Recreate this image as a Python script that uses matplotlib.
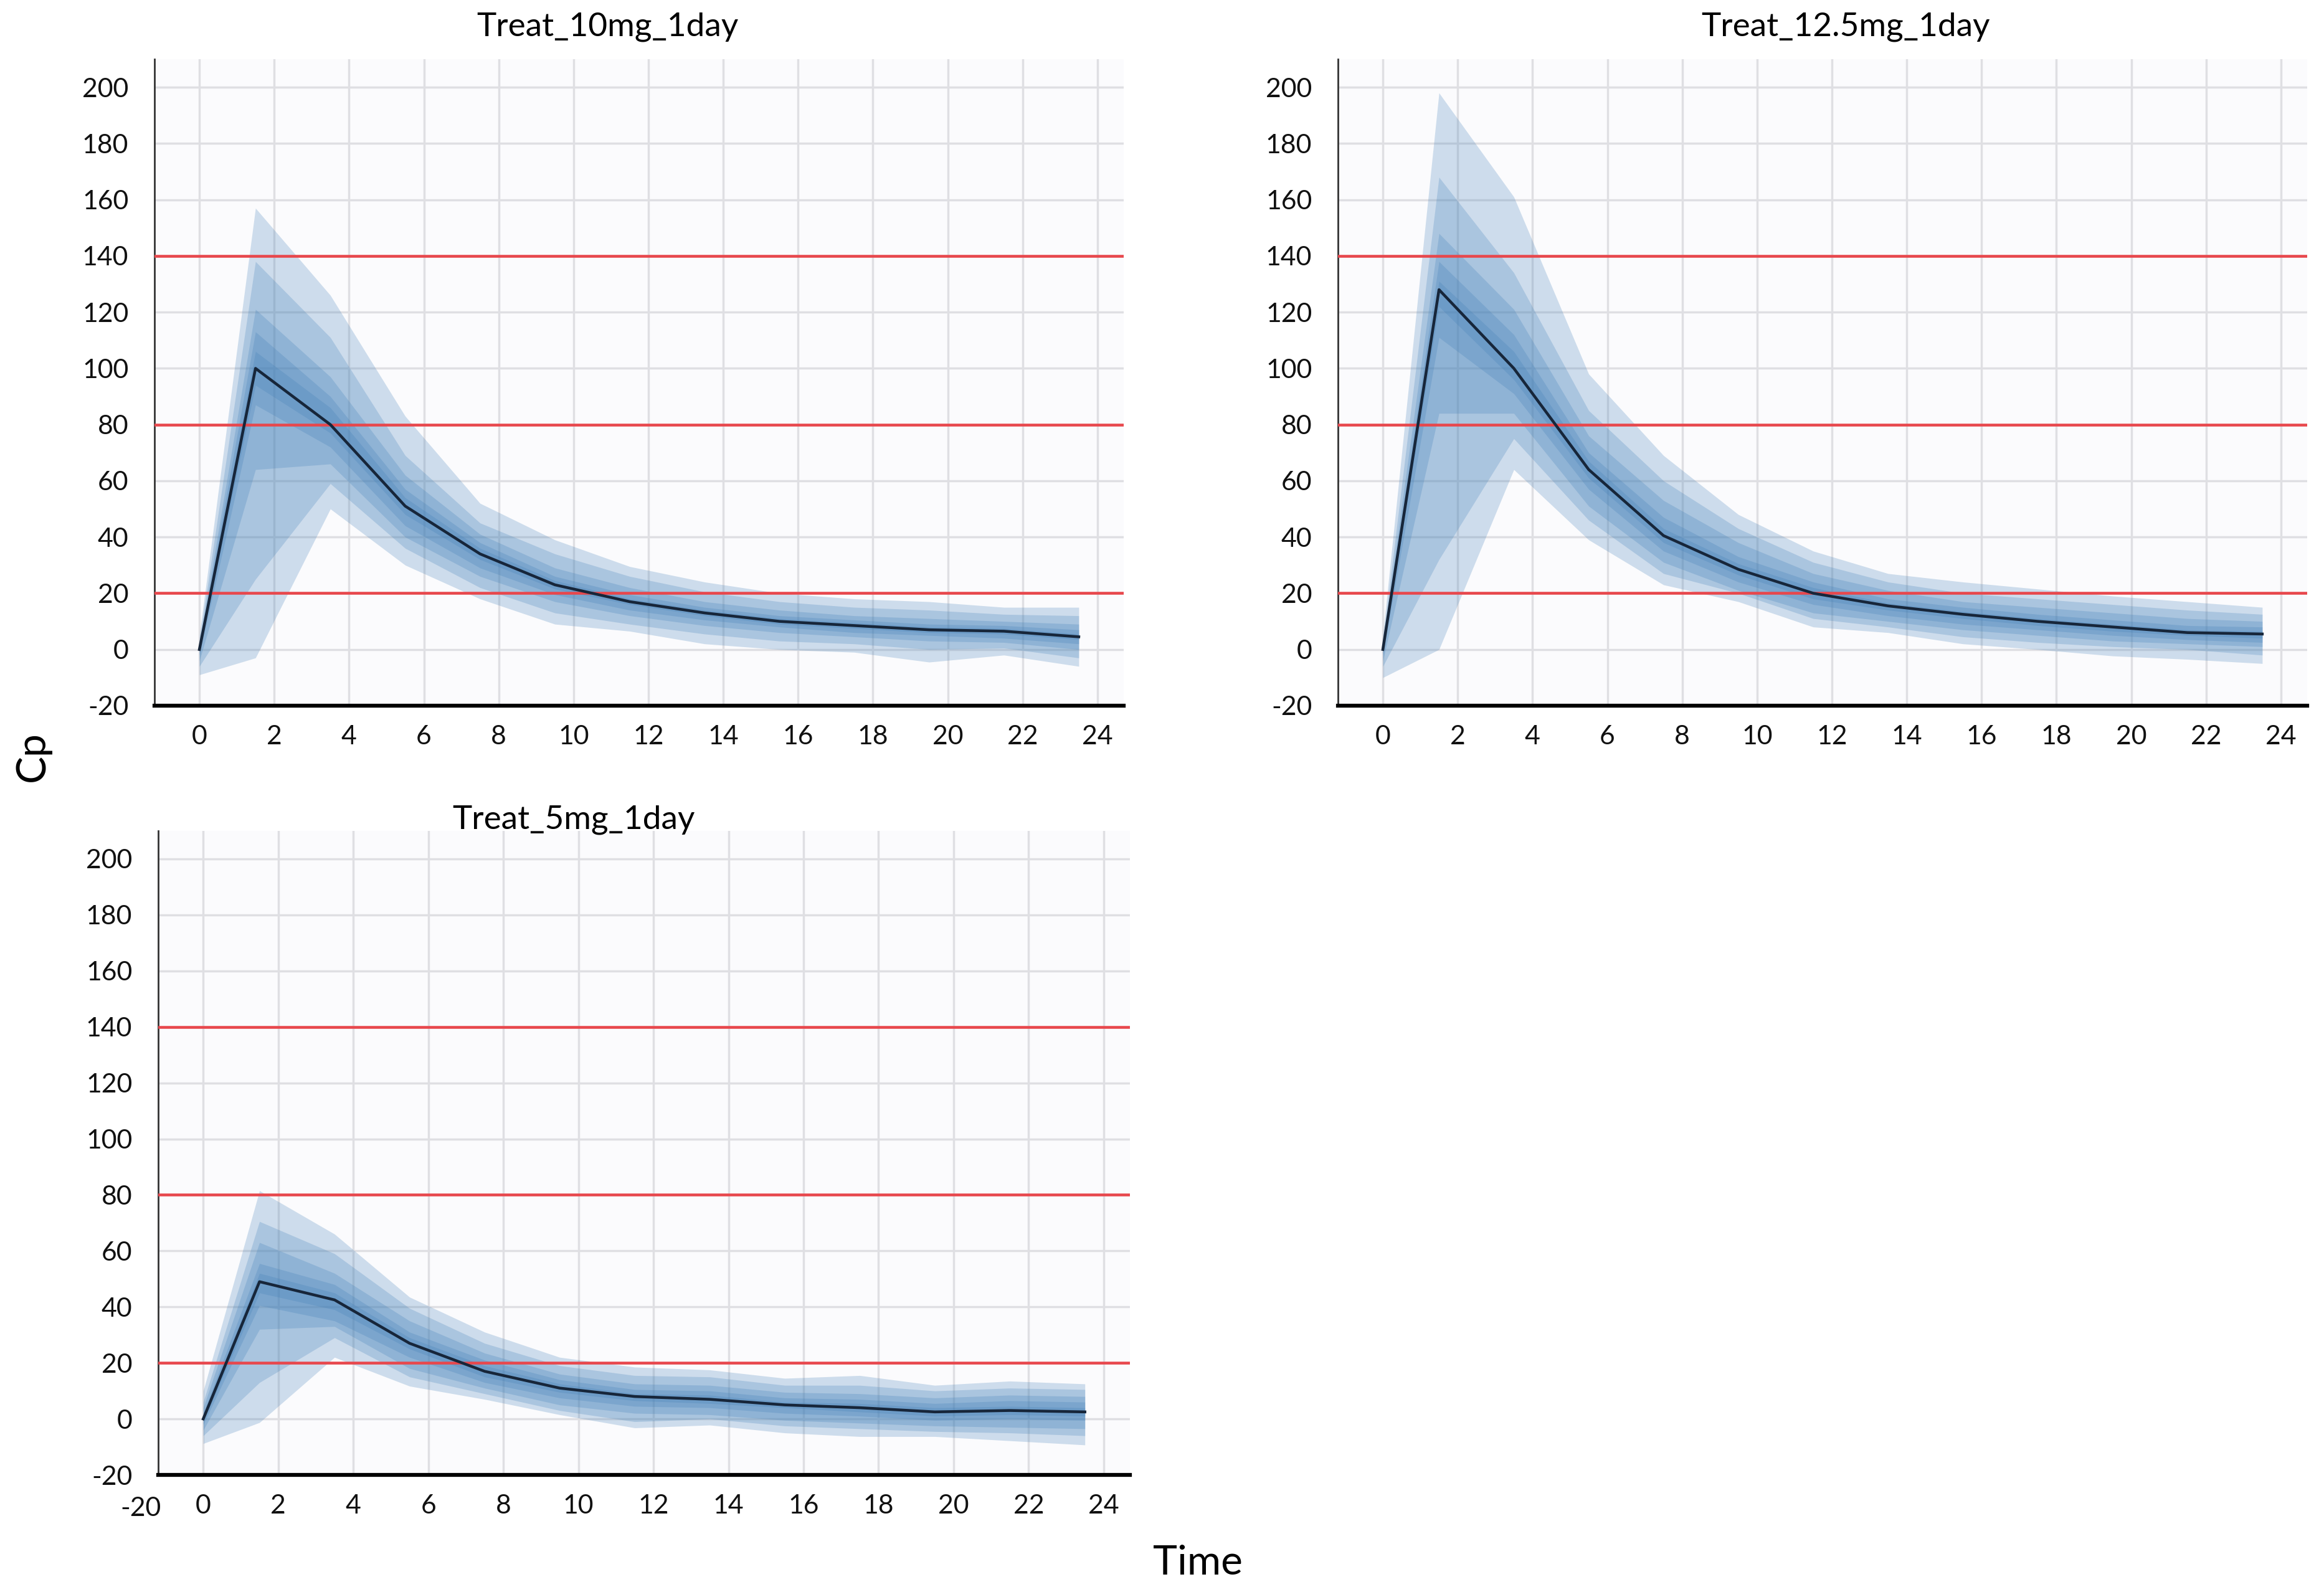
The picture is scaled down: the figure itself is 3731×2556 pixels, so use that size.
"""
Fan charts of simulated Cp over time for three dose groups.
"""

import matplotlib.pyplot as plt

# sampling times (h)
times = [0, 1.5, 3.5, 5.5, 7.5, 9.5, 11.5, 13.5, 15.5, 17.5, 19.5, 21.5, 23.5]

# Treat_10mg_1day
med_10 = [0, 100, 80, 51, 34, 23, 17, 13, 10, 8.5, 7, 6.5, 4.5]
p95_10 = [5, 157, 126, 83, 52, 39, 29.5, 24, 20, 18, 17, 15, 15]
p90_10 = [3, 138, 111, 69, 45, 34, 26, 20.5, 17, 15, 14, 12.5, 12]
p80_10 = [2, 121, 97, 62, 41, 29, 22, 17, 14, 12, 11, 10, 9]
p70_10 = [1, 113, 90, 57, 38, 26, 19.5, 15, 12, 10.5, 9, 8.5, 7]
p60_10 = [0.5, 106, 86, 54, 36, 24.5, 18, 14, 11, 9.5, 8, 7.5, 5.5]
p40_10 = [-0.5, 94, 77, 48, 32, 21.5, 16, 12, 9, 7.5, 6, 5.5, 3.5]
p30_10 = [-2, 87, 72, 44, 29, 19.5, 14, 10.5, 8, 6, 5, 4, 2]
p20_10 = [-4, 64, 66, 40, 26, 17, 12, 8.5, 6, 4.5, 3, 2.5, 0]
p10_10 = [-6, 25, 59, 36, 22, 13, 9, 5.5, 3, 2, 0, 0.5, -3]
p5_10 = [-9, -3, 50, 30, 18, 9, 6.5, 2, 0, -1, -4.5, -2, -6]

# Treat_12.5mg_1day
med_12 = [0, 128, 100, 64, 40.5, 28.5, 20, 15.5, 12.5, 10, 8, 6, 5.5]
p95_12 = [5, 198, 161, 98, 69, 48, 35, 27, 24, 21.5, 19, 17, 15]
p90_12 = [3, 168, 134, 85, 60, 43, 31, 24, 20, 18, 16, 14, 12.5]
p80_12 = [2, 148, 121, 76, 53, 38, 27, 21, 17, 15, 13, 11, 10]
p70_12 = [1, 138, 112, 70, 47, 33, 24, 18, 15, 12.5, 10.5, 8.5, 8]
p60_12 = [0.5, 131, 106, 67, 43, 30.5, 22, 16.5, 13.5, 11, 9, 7, 6.5]
p40_12 = [-0.5, 122, 96, 61, 38, 26.5, 18, 14, 11, 8.5, 6.5, 5, 4]
p30_12 = [-2, 111, 91, 57, 35, 24, 16, 12, 9, 7, 5, 3.5, 2.5]
p20_12 = [-4, 84, 84, 51, 31, 21, 13, 10, 7, 5, 3, 2, 1]
p10_12 = [-6, 32, 75, 46, 27, 20, 11, 8, 4.5, 2.5, 1, 0, -2]
p5_12 = [-10, 0, 64, 39, 23, 17, 8, 6, 2, 0, -2.3, -3.5, -5]

# Treat_5mg_1day
med_5 = [0, 49, 42.5, 27, 17, 11, 8, 7, 5, 4, 2.5, 3, 2.5]
p95_5 = [10, 81.5, 66, 43.5, 31, 22, 18.5, 17.5, 14.5, 15.5, 12, 13.5, 12.5]
p90_5 = [6, 70.5, 59, 39.5, 27, 19, 15.5, 15, 12, 12, 10, 11, 10.5]
p80_5 = [4, 63, 52, 35, 23.5, 16, 12.5, 12, 9.5, 9, 7.5, 8.5, 8]
p70_5 = [2, 55.5, 48, 31, 21, 14, 10.5, 10, 7.5, 7, 5.5, 6.5, 6]
p60_5 = [1, 52, 45, 29, 19, 12.5, 9, 8.5, 6, 5.5, 4, 4.5, 4]
p40_5 = [-1, 45, 39, 25, 15, 9.5, 6.5, 5.5, 4, 2.5, 1, 1.5, 1]
p30_5 = [-2, 40.5, 35, 22, 13, 7.5, 4.5, 4, 2, 1, -0.5, 0, -0.5]
p20_5 = [-4, 32, 33, 18, 11, 5, 2, 1.5, -0.5, -1.5, -2.5, -3, -3.5]
p10_5 = [-6, 13, 29, 15, 9, 3, -1, 0, -2.5, -3.5, -4.5, -5, -6]
p5_5 = [-8.8, -1.3, 22, 11.7, 7, 1.5, -3.2, -2.2, -5, -6.3, -6.3, -7.8, -9.3]

ref_lines = [20, 80, 140]
x_ticks = list(range(0, 25, 2))
y_ticks = list(range(-20, 201, 20))

plt.rcParams["font.family"] = ["Lato", "DejaVu Sans"]
plt.rcParams["axes.unicode_minus"] = False

W, H = 3731, 2556
fig = plt.figure(figsize=(W / 250, H / 250), dpi=250)


def draw_panel(rect, title, title_xy, med, bands):
    ax = fig.add_axes(rect)
    ax.set_facecolor("#fbfbfd")
    for lo, hi in bands:
        ax.fill_between(times, lo, hi, color="#3d7cb6", alpha=0.24,
                        linewidth=0, zorder=2)
    ax.plot(times, med, color="#17263a", linewidth=1.3, zorder=4)
    for y in ref_lines:
        ax.axhline(y, color="#e8474c", linewidth=1.3, zorder=3)

    ax.set_xlim(-1.2, 24.7)
    ax.set_ylim(-20, 210)
    ax.set_xticks(x_ticks)
    ax.set_yticks(y_ticks)
    ax.grid(True, color="#dfdfe3", linewidth=1.0, zorder=0)
    ax.set_axisbelow(True)
    ax.tick_params(axis="both", length=0, labelsize=12.3, colors="#111111")
    ax.tick_params(axis="y", pad=12)
    ax.tick_params(axis="x", pad=9)
    for side in ("top", "right"):
        ax.spines[side].set_visible(False)
    ax.spines["left"].set_color("#333333")
    ax.spines["left"].set_linewidth(0.8)
    ax.spines["bottom"].set_color("black")
    ax.spines["bottom"].set_linewidth(1.8)

    fig.text(title_xy[0] / W, 1 - title_xy[1] / H, title,
             ha="center", va="center", fontsize=15.3)
    return ax


draw_panel([248 / W, 1 - 1133 / H, 1556 / W, 1038 / H],
           "Treat_10mg_1day", (975, 43), med_10,
           [(p5_10, p95_10), (p10_10, p90_10), (p20_10, p80_10),
            (p30_10, p70_10), (p40_10, p60_10)])

draw_panel([2148 / W, 1 - 1133 / H, 1556 / W, 1038 / H],
           "Treat_12.5mg_1day", (2963, 43), med_12,
           [(p5_12, p95_12), (p10_12, p90_12), (p20_12, p80_12),
            (p30_12, p70_12), (p40_12, p60_12)])

draw_panel([254 / W, 1 - 2368 / H, 1560 / W, 1034 / H],
           "Treat_5mg_1day", (921, 1316), med_5,
           [(p5_5, p95_5), (p10_5, p90_5), (p20_5, p80_5),
            (p30_5, p70_5), (p40_5, p60_5)])

# stray label left over from the original composite
fig.text(226 / W, 1 - 2422 / H, "-20", ha="center", va="center",
         fontsize=12.3, color="#111111")

fig.text(52 / W, 1 - 1214 / H, "Cp", rotation=90, ha="center", va="center",
         fontsize=19)
fig.text(1923 / W, 1 - 2510 / H, "Time", ha="center", va="center",
         fontsize=19)

fig.savefig("out.png", dpi=250, facecolor="white")
plt.close(fig)
